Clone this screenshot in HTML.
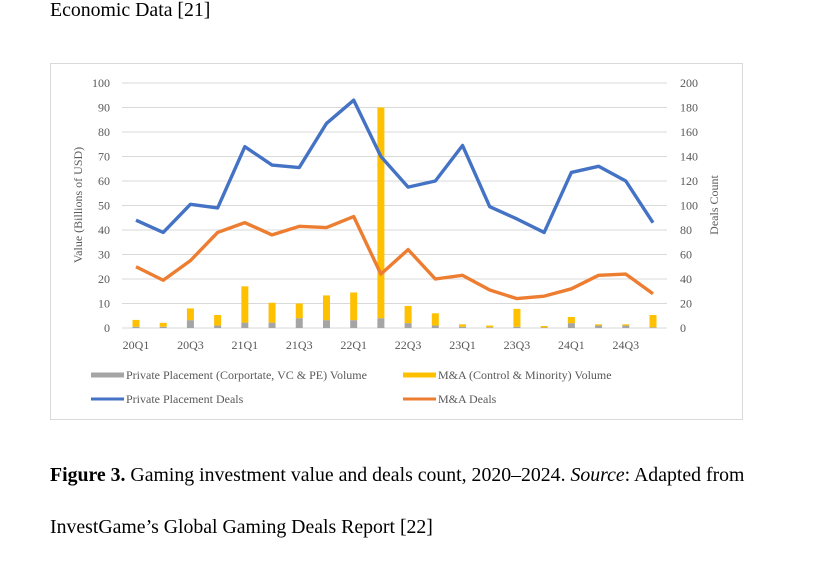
<!DOCTYPE html>
<html><head><meta charset="utf-8"><style>
body{margin:0;background:#fff;width:833px;height:561px;overflow:hidden;position:relative;font-family:"Liberation Serif",serif;}
.t{position:absolute;font-size:19.8px;color:#000;white-space:nowrap}
</style></head><body>
<div class="t" style="left:50px;top:-1px">Economic Data [21]</div>
<svg id="c" width="833" height="561" style="position:absolute;left:0;top:0" font-family="Liberation Serif, serif"></svg>
<div class="t" style="left:50px;top:464px"><b>Figure 3.</b> Gaming investment value and deals count, 2020–2024. <i>Source</i>: Adapted from</div>
<div class="t" style="left:50px;top:516px">InvestGame’s Global Gaming Deals Report [22]</div>
<script>
const categories=["20Q1","20Q2","20Q3","20Q4","21Q1","21Q2","21Q3","21Q4","22Q1","22Q2","22Q3","22Q4","23Q1","23Q2","23Q3","23Q4","24Q1","24Q2","24Q3","24Q4"];
const ppVolume=[0.5,0.5,3.2,1,2.2,2.2,4,3.2,3.2,4,2,1,0.5,0.3,0.5,0.2,2,1,1,0.3];
const maVolume=[2.8,1.6,4.8,4.3,14.8,8.1,6,10.1,11.3,86,7,5,1,0.7,7.3,0.6,2.5,0.5,0.5,5];
const ppDeals=[88,78,101,98,148,133,131,167,186,140,115,120,149,99,89,78,127,132,120,86];
const maDeals=[50,39,55,78,86,76,83,82,91,44,64,40,43,31,24,26,32,43,44,28];
const leftTicks=[0,10,20,30,40,50,60,70,80,90,100];
const rightTicks=[0,20,40,60,80,100,120,140,160,180,200];
const svg=document.getElementById('c');const NS='http://www.w3.org/2000/svg';
function mk(t,a,p){const e=document.createElementNS(NS,t);for(const k in a)e.setAttribute(k,a[k]);(p||svg).appendChild(e);return e;}
const X0=122,X1=667,Y0=328,Y1=83;
const x=i=>136+i*(653-136)/(categories.length-1);
const yL=v=>Y0-(v/100)*(Y0-Y1);
const yR=v=>Y0-(v/200)*(Y0-Y1);
let f=mk('rect',{x:50.5,y:63.5,width:692,height:356,fill:'#fff',stroke:'#d9d9d9'});

leftTicks.forEach((t,i)=>{const y=yL(t);
 let g=mk('line',{x1:X0,x2:X1,y1:y,y2:y,stroke:'#d9d9d9','stroke-width':1});
 
 let a=mk('text',{x:110,y:y+4,'text-anchor':'end','font-size':12,fill:'#595959'});a.textContent=t;
 
 let b=mk('text',{x:680,y:y+4,'font-size':12,fill:'#595959'});b.textContent=rightTicks[i];
 
});
categories.forEach((c,i)=>{
 const bw=7;
 let r1=mk('rect',{x:x(i)-bw/2,y:yL(ppVolume[i]),width:bw,height:Y0-yL(ppVolume[i]),fill:'#a5a5a5'});
 
 let r2=mk('rect',{x:x(i)-bw/2,y:yL(ppVolume[i]+maVolume[i]),width:bw,height:yL(ppVolume[i])-yL(ppVolume[i]+maVolume[i]),fill:'#ffc000'});
 
 if(i%2==0){let t=mk('text',{x:x(i),y:349,'text-anchor':'middle','font-size':12,fill:'#595959'});t.textContent=c;
 }
});
function line(d,col,n){let p=mk('polyline',{points:d.map((v,i)=>x(i)+','+yR(v)).join(' '),fill:'none',stroke:col,'stroke-width':3.4,'stroke-linejoin':'round'});
 }
line(ppDeals,'#4472c4','line-pp-deals');line(maDeals,'#ed7d31','line-ma-deals');
let yl=mk('text',{x:0,y:0,transform:'translate(82,205) rotate(-90)','text-anchor':'middle','font-size':12,fill:'#595959'});yl.textContent='Value (Billions of USD)';

let yr=mk('text',{x:0,y:0,transform:'translate(718,205) rotate(-90)','text-anchor':'middle','font-size':12,fill:'#595959'});yr.textContent='Deals Count';

function leg(x0,y,col,h,label,n){let s=mk('rect',{x:x0,y:y-h/2,width:33,height:h,fill:col});
 
 let t=mk('text',{x:x0+35,y:y+4,'font-size':12,fill:'#595959'});t.textContent=label;
 }
leg(91,375,'#a5a5a5',5,'Private Placement (Corportate, VC & PE) Volume','legend-pp-volume');
leg(403,375,'#ffc000',5,'M&A (Control & Minority) Volume','legend-ma-volume');
leg(91,399,'#4472c4',3,'Private Placement Deals','legend-pp-deals');
leg(403,399,'#ed7d31',3,'M&A Deals','legend-ma-deals');
</script>
</body></html>
